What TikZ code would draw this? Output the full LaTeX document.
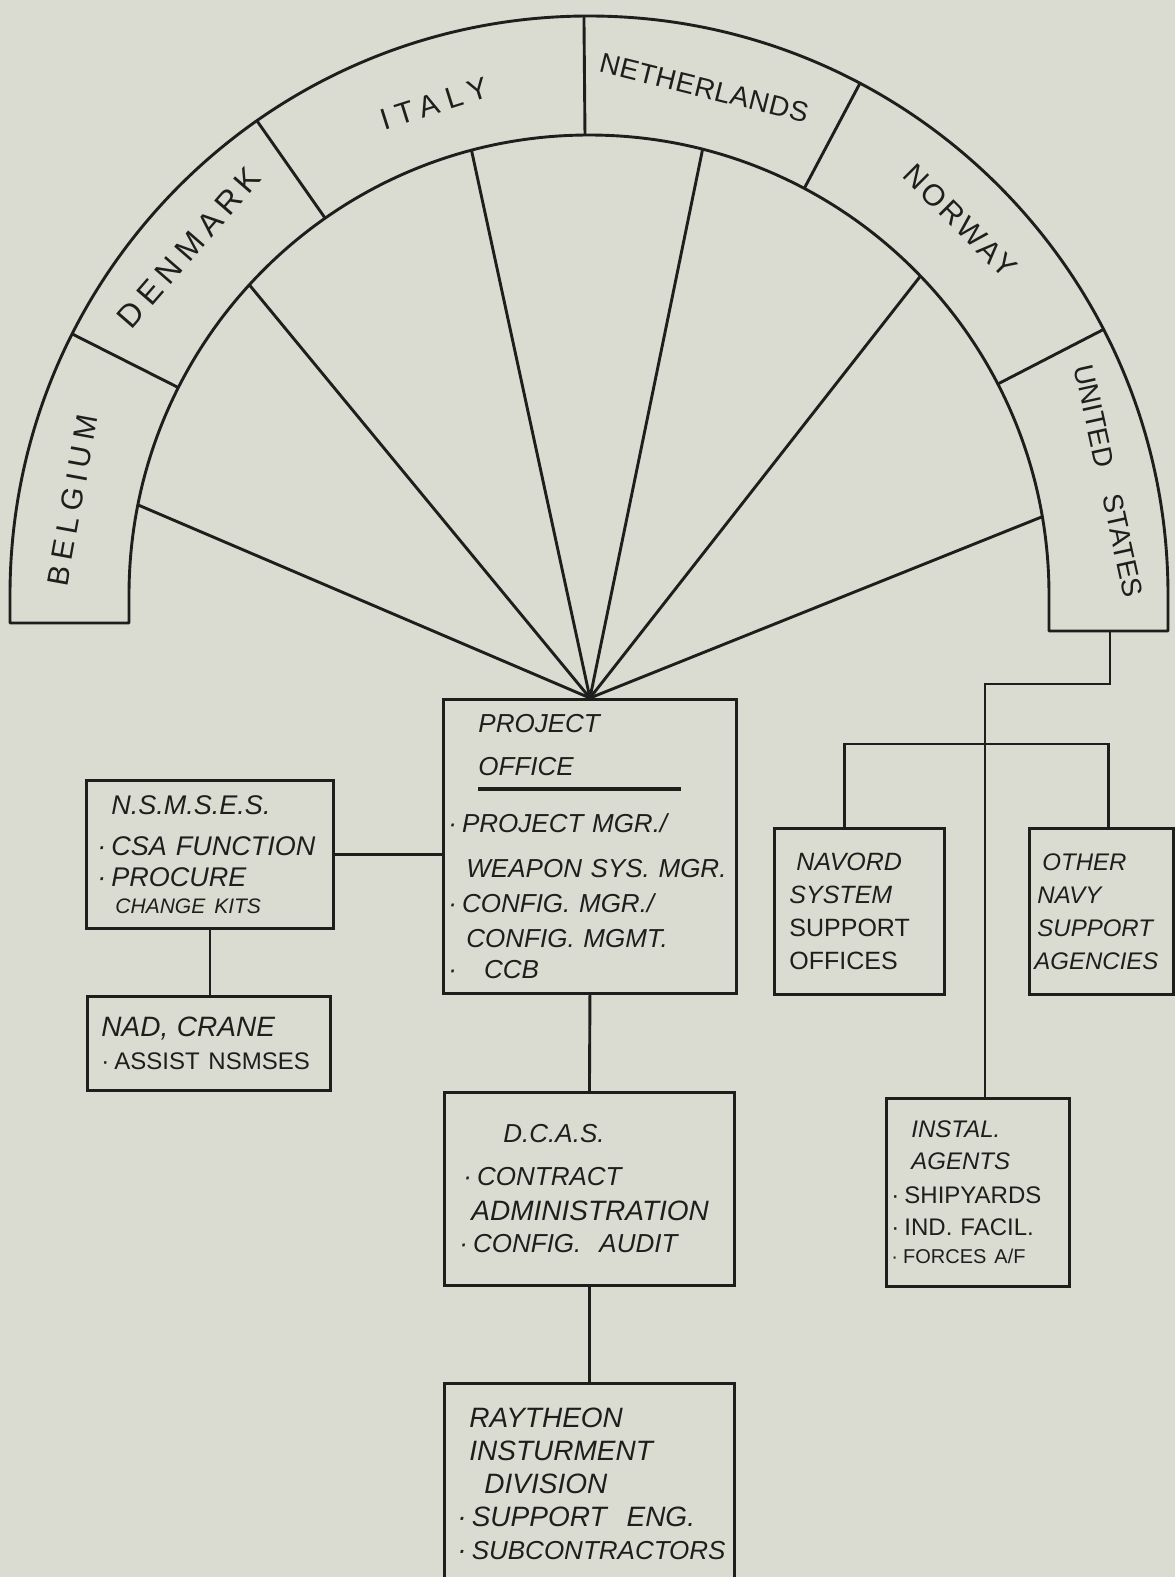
\documentclass[tikz,border=0pt]{standalone}
\usepackage{fontspec}
\setmainfont{Liberation Sans}
\usetikzlibrary{positioning}
\definecolor{paper}{RGB}{218,219,209}
\definecolor{ink}{RGB}{30,30,28}
\newcommand{\bul}{\textperiodcentered\hspace{5pt}}
\tikzset{
  band/.style={draw=ink, line width=2.9pt, line join=round},
  land/.style={text=ink, inner sep=0pt, font=\fontsize{30}{30}\selectfont},
  office/.style={draw=ink, line width=2.9pt, anchor=north west, align=left,
    inner xsep=5pt, inner ysep=0pt, text=ink,
    font=\itshape\fontsize{26}{35}\selectfont},
  link/.style={draw=ink, line width=2.9pt}
}
\begin{document}
\begin{tikzpicture}[x=1pt,y=1pt]
  \fill[paper] (0,0) rectangle (1175,-1577);
  \useasboundingbox (0,0) rectangle (1175,-1577);
  \coordinate (ctr) at (589,-595);

  % half ring of the nations
  \draw[band] (10,-623) -- (10,-595) arc[start angle=180, end angle=0, radius=579]
    -- (1168,-631) -- (1049,-631) -- (1049,-595)
    arc[start angle=0, end angle=180, radius=460] -- (129,-623) -- cycle;
  \foreach \a in {153.2,125,90.5,62.1,27.3}
    \draw[band] ([shift={(ctr)}]\a:460) -- ([shift={(ctr)}]\a:579);
  \foreach \a [count=\i] in {168.7,137.6,104.8,75.7,43.9,9.8}
    \coordinate (rim\i) at ([shift={(ctr)}]\a:460);

  \node[land, rotate=79.6] (belgium) at ([shift={(ctr)}]169.6:525)
    {\addfontfeature{LetterSpace=21}BELGIUM};
  \node[land, rotate=49, font=\fontsize{32}{32}\selectfont] (denmark) at ([shift={(ctr)}]139:530)
    {\addfontfeature{LetterSpace=21}DENMARK};
  \node[land, rotate=17.5] (italy) at ([shift={(ctr)}]107.5:515)
    {\addfontfeature{LetterSpace=27}ITALY};
  \node[land, rotate=-14, font=\fontsize{28}{28}\selectfont] (netherlands) at ([shift={(ctr)}]77.2:520)
    {\addfontfeature{LetterSpace=2}NETHERLANDS};
  \node[land, rotate=-45] (norway) at ([shift={(ctr)}]45.2:527)
    {\addfontfeature{LetterSpace=10}NORWAY};
  \node[land, rotate=-77.6, font=\fontsize{28}{28}\selectfont] (unitedstates) at ([shift={(ctr)}]12.4:532)
    {UNITED\quad STATES};

  % offices
  \node[office, text width=283pt, minimum height=294pt] (po) at (442,-698)
    {\hspace*{30pt}PROJECT\\[8pt]
     \hspace*{30pt}\rlap{\rule[-16pt]{203pt}{4.5pt}}OFFICE\\[22pt]
     \bul PROJECT~MGR./\\[10pt]
     \hspace*{18pt}WEAPON~SYS.~MGR.\\
     \bul CONFIG.~MGR./\\
     \hspace*{18pt}CONFIG.~MGMT.\\[-4pt]
     \bul\hspace*{22pt}CCB};
  \node[office, text width=237pt, minimum height=148pt, font=\itshape\fontsize{27}{35}\selectfont] (nsmses) at (85,-779)
    {\hspace*{20pt}N.S.M.S.E.S.\\[6pt]
     \hspace*{6pt}\bul CSA~FUNCTION\\[-4pt]
     \hspace*{6pt}\bul PROCURE\\[-8pt]
     \hspace*{24pt}{\fontsize{21}{21}\selectfont CHANGE~KITS}};
  \node[office, text width=233pt, minimum height=94pt] (nad) at (86,-995)
    {\hspace*{9pt}{\fontsize{28}{28}\selectfont NAD,~CRANE}\\[-2pt]
     \hspace*{9pt}{\upshape\fontsize{24}{24}\selectfont\bul ASSIST~NSMSES}};
  \node[office, text width=280pt, minimum height=193pt] (dcas) at (443,-1091)
    {\hspace*{54pt}D.C.A.S.\\[8pt]
     \hspace*{14pt}\bul CONTRACT\\
     \hspace*{22pt}{\fontsize{28}{28}\selectfont ADMINISTRATION}\\[-3pt]
     \hspace*{10pt}\bul CONFIG.\hspace*{18pt}AUDIT};
  \node[office, text width=280pt, inner ysep=24pt, font=\itshape\fontsize{28}{33}\selectfont] (ray) at (443,-1382)
    {\hspace*{20pt}RAYTHEON\\
     \hspace*{20pt}INSTURMENT\\
     \hspace*{35pt}DIVISION\\
     \hspace*{8pt}\bul SUPPORT\hspace*{20pt}ENG.\\
     \hspace*{8pt}\bul{\fontsize{26}{33}\selectfont\mbox{SUBCONTRACTORS}}};
  \node[office, text width=160pt, minimum height=166pt, font=\itshape\fontsize{25}{33}\selectfont] (navord) at (773,-827)
    {\hspace*{17pt}NAVORD\\
     \hspace*{10pt}SYSTEM\\
     \hspace*{10pt}{\upshape SUPPORT}\\
     \hspace*{10pt}{\upshape OFFICES}};
  \node[office, text width=134pt, minimum height=166pt, font=\itshape\fontsize{24}{33}\selectfont] (other) at (1028,-827)
    {\hspace*{8pt}OTHER\\
     \hspace*{3pt}NAVY\\
     \hspace*{3pt}SUPPORT\\
     AGENCIES};
  \node[office, text width=173pt, minimum height=188pt, font=\itshape\fontsize{24}{32}\selectfont] (instal) at (885,-1097)
    {\hspace*{20pt}INSTAL.\\
     \hspace*{20pt}AGENTS\\[2pt]
     {\upshape\bul SHIPYARDS}\\
     {\upshape\bul IND.~FACIL.}\\[-4pt]
     {\upshape\fontsize{20}{20}\selectfont\bul FORCES~A/F}};

  \coordinate (usfoot) at (1110,-631);
  \coordinate (jct) at (985,-684);
  \coordinate (bus) at (985,-744);
  \begin{scope}[link]
    \foreach \i in {1,...,6}
      \draw (po.north) to (rim\i);
    \draw (nsmses.east) to (nsmses.east -| po.west);
    \draw (nsmses.south) to (nsmses.south |- nad.north);
    \draw (po.south) to (dcas.north);
    \draw (dcas.south) to (ray.north);
    \draw (usfoot) |- (jct) to (jct |- instal.north);
    \draw ([xshift=-15pt]navord.north) |- (bus) -| ([xshift=7pt]other.north);
  \end{scope}
\end{tikzpicture}
\end{document}
